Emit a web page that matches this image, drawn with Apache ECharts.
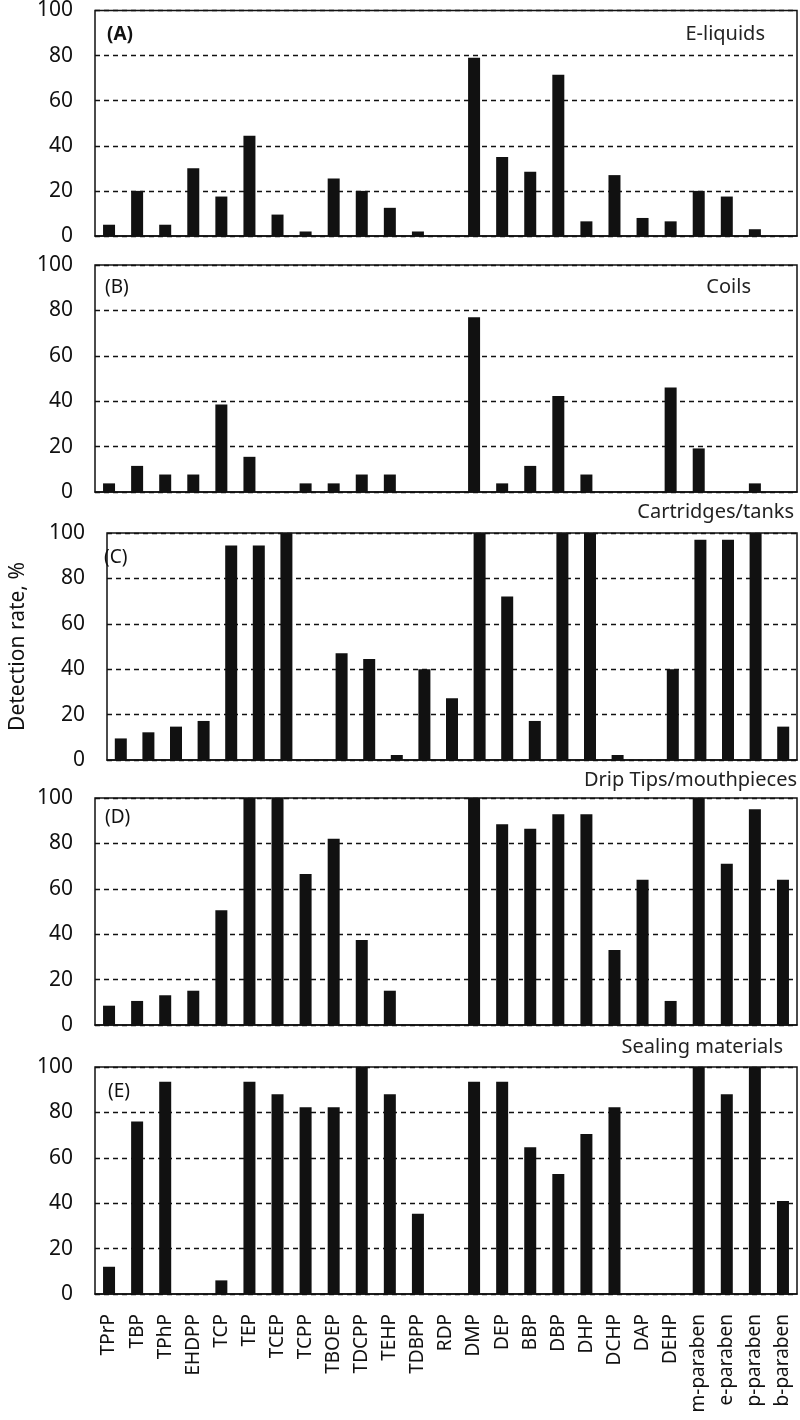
<!DOCTYPE html>
<html>
<head>
<meta charset="utf-8">
<script src="https://cdn.jsdelivr.net/npm/echarts@6/dist/echarts.min.js"></script>
<style>
  html, body { margin: 0; padding: 0; background: #fff; }
  #chart { width: 800px; height: 1420px; }
</style>
</head>
<body>
<div id="chart"></div>
<script>
// categories (x axis)
const compounds = ['TPrP', 'TBP', 'TPhP', 'EHDPP', 'TCP', 'TEP', 'TCEP', 'TCPP', 'TBOEP', 'TDCPP', 'TEHP', 'TDBPP', 'RDP',
  'DMP', 'DEP', 'BBP', 'DBP', 'DHP', 'DCHP', 'DAP', 'DEHP', 'm-paraben', 'e-paraben', 'p-paraben', 'b-paraben']

// detection rate, %
const eLiquids = [5, 20, 5, 30, 17.5, 44.5, 9.5, 2, 25.5, 20, 12.5, 2, 0, 79, 35, 28.5, 71.5, 6.5, 27, 8, 6.5, 20, 17.5, 3, 0]
const coils = [3.8, 11.5, 7.7, 7.7, 38.5, 15.5, 0, 3.8, 3.8, 7.7, 7.7, 0, 0, 77, 3.8, 11.5, 42.3, 7.7, 0, 0, 46, 19.2, 0, 3.8, 0]
const cartridges = [9.5, 12.2, 14.7, 17.2, 94.5, 94.5, 100, 0, 47, 44.5, 2.2, 40, 27.2, 100, 72, 17.2, 100, 100, 2.2, 0, 40, 97, 97, 100, 14.7]
const dripTips = [8.5, 10.6, 13.1, 15.1, 50.5, 100, 100, 66.5, 82, 37.4, 15.1, 0, 0, 100, 88.4, 86.5, 92.8, 92.8, 33, 64, 10.6, 100, 71, 95, 64]
const sealing = [12, 76, 93.5, 0, 6, 93.5, 88, 82.3, 82.3, 100, 88, 35.4, 0, 93.5, 93.5, 64.7, 52.9, 70.5, 82.3, 0, 0, 100, 88, 100, 41]

const panelData = [eLiquids, coils, cartridges, dripTips, sealing]
const panelTags = ['(A)', '(B)', '(C)', '(D)', '(E)']
const panelNames = ['E-liquids', 'Coils', 'Cartridges/tanks', 'Drip Tips/mouthpieces', 'Sealing materials']

// layout of the five stacked plots
const gridTops = [9, 265, 533, 798, 1067]
const gridHeight = 227
const tagPos = [[107, 35], [105, 288], [104, 558], [105, 818], [108, 1092]]
const namePos = [[765, 34], [751, 287], [794, 512], [797, 780], [783, 1047]]

const font = '"Noto Sans", "DejaVu Sans", sans-serif'

const myChart = echarts.init(document.getElementById('chart'))

let grids = [], xAxes = [], yAxes = [], series = [], graphics = []

panelData.forEach((vals, i) => {
  const last = i === panelData.length - 1
  grids.push({
    left: 95, right: 3, top: gridTops[i], height: gridHeight,
    show: true, borderColor: '#111', borderWidth: 1.5, backgroundColor: 'transparent'
  })
  xAxes.push({
    type: 'category', gridIndex: i, data: compounds,
    axisLine: { lineStyle: { color: '#111', width: 1.5 } },
    axisTick: { show: false },
    axisLabel: {
      show: last, interval: 0, rotate: 90, margin: 20,
      color: '#111', fontSize: 19, fontFamily: font
    }
  })
  yAxes.push({
    type: 'value', gridIndex: i, min: 0, max: 100, interval: 20,
    name: i === 2 ? 'Detection rate, %' : '',
    nameLocation: 'middle', nameGap: 78,
    nameTextStyle: { color: '#111', fontSize: 21, fontFamily: font },
    axisLine: { show: false },
    axisTick: { show: false },
    axisLabel: { margin: 22, color: '#111', fontSize: 21, fontFamily: font },
    splitLine: { lineStyle: { color: '#111', type: [5, 4], width: 1.3 } }
  })
  series.push({
    type: 'bar', xAxisIndex: i, yAxisIndex: i, data: vals,
    barWidth: 12, itemStyle: { color: '#111' }, z: 3
  })
  graphics.push({
    type: 'text', x: tagPos[i][0], y: tagPos[i][1],
    style: { text: panelTags[i], align: 'left', verticalAlign: 'middle', font: (i === 0 ? 'bold ' : '') + '19px ' + font, fill: '#111' }
  })
  graphics.push({
    type: 'text', x: namePos[i][0], y: namePos[i][1],
    style: { text: panelNames[i], align: 'right', verticalAlign: 'middle', font: '20px ' + font, fill: '#222' }
  })
})

let option = {
  animation: false,
  backgroundColor: '#fff',
  grid: grids,
  xAxis: xAxes,
  yAxis: yAxes,
  series: series,
  graphic: graphics
}
myChart.setOption(option)
</script>
</body>
</html>
